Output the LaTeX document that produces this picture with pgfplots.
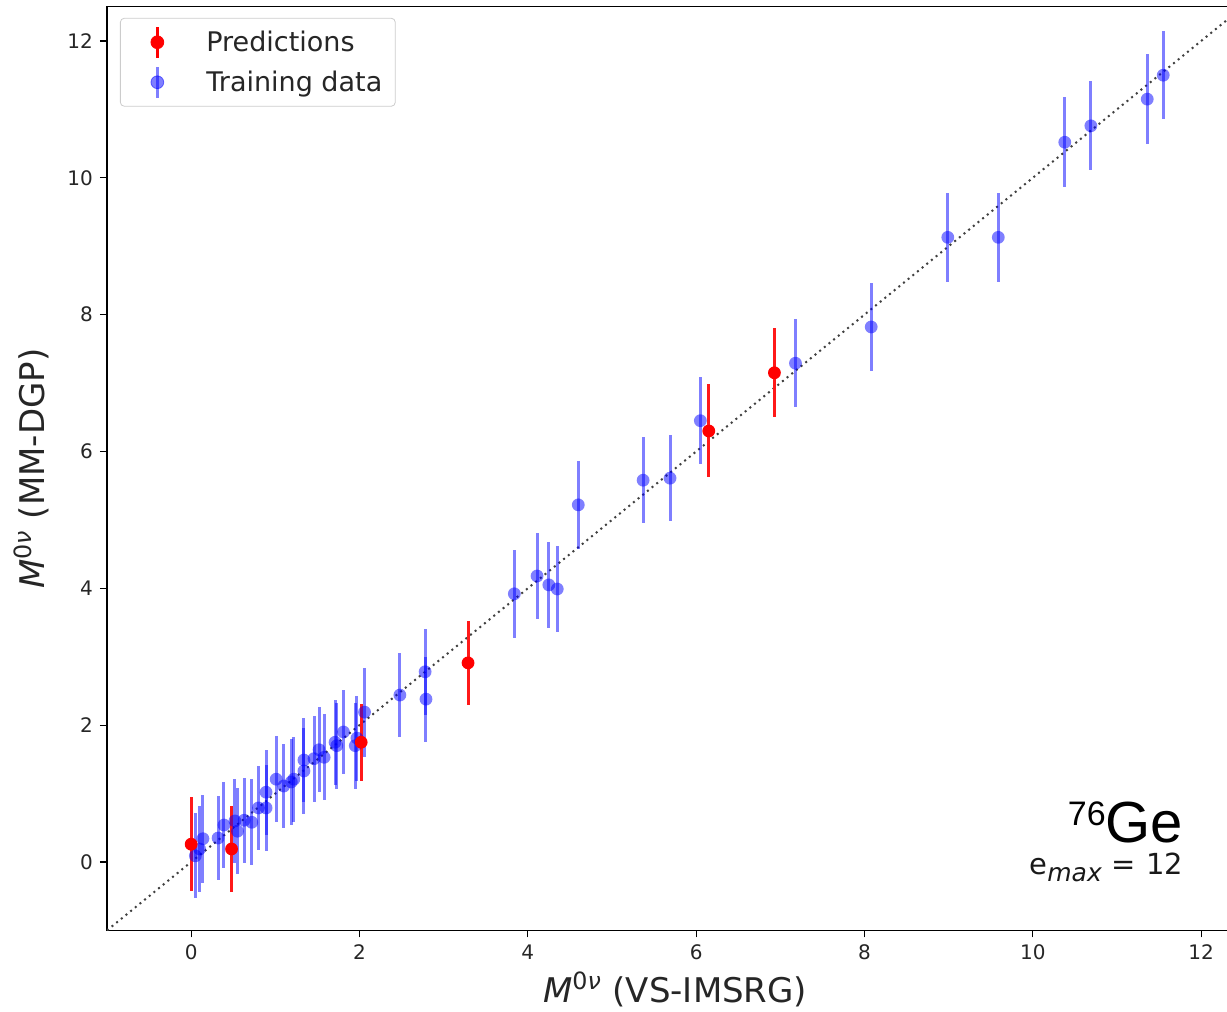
\documentclass[border=0pt]{standalone}
\usepackage{fontspec}
\setmainfont{DejaVu Sans}
\newfontfamily\helv{Liberation Sans}
\usepackage{pgfplots}
\usepackage{pgfplotstable}
\pgfplotsset{compat=1.18}

% predictions (red)
\pgfplotstableread{
x     y     ey
0.00  0.26  0.69
0.48  0.19  0.63
2.02  1.75  0.56
3.29  2.91  0.61
6.15  6.30  0.68
6.93  7.15  0.65
}\pred

% training data (blue)
\pgfplotstableread{
x     y     ey
0.05  0.09  0.62
0.10  0.19  0.63
0.14  0.34  0.64
0.32  0.35  0.62
0.39  0.54  0.63
0.52  0.60  0.62
0.55  0.45  0.63
0.63  0.61  0.62
0.72  0.58  0.63
0.80  0.79  0.62
0.89  0.79  0.63
0.89  1.02  0.62
1.01  1.21  0.63
1.10  1.11  0.62
1.19  1.17  0.63
1.22  1.21  0.62
1.34  1.33  0.63
1.34  1.49  0.62
1.46  1.51  0.63
1.52  1.64  0.62
1.58  1.53  0.63
1.71  1.75  0.62
1.73  1.70  0.63
1.81  1.90  0.62
1.95  1.70  0.63
1.97  1.81  0.62
2.06  2.19  0.65
2.48  2.44  0.62
2.78  2.78  0.63
2.79  2.38  0.62
3.84  3.92  0.64
4.11  4.18  0.63
4.25  4.05  0.63
4.35  3.99  0.63
4.60  5.22  0.64
5.37  5.58  0.63
5.69  5.61  0.63
6.05  6.45  0.64
7.18  7.29  0.64
8.08  7.82  0.64
8.99  9.13  0.65
9.59  9.13  0.65
10.38 10.52 0.66
10.69 10.76 0.65
11.36 11.15 0.66
11.55 11.50 0.64
}\train

\begin{document}
\begin{tikzpicture}
\begin{axis}[
  at={(0,0)}, anchor=south west,
  scale only axis,
  width=568.1pt, height=461.8pt,
  xmin=-1, xmax=12.5, ymin=-1, ymax=12.5,
  xtick={0,2,...,12}, ytick={0,2,...,12},
  xtick pos=lower, ytick pos=left,
  tick align=outside, major tick length=3.5pt,
  tick style={black, line width=0.6pt},
  axis line style={line width=0.65pt},
  /pgf/number format/assume math mode=true,
  tick label style={font=\fontsize{10}{12}\selectfont, text=black!85},
  xlabel={\textit{M}\textsuperscript{0\textit{ν}} (VS-IMSRG)},
  ylabel={\textit{M}\textsuperscript{0\textit{ν}} (MM-DGP)},
  every axis x label/.style={at={(axis description cs:0.5,-0.0780)}, anchor=base,
    font=\fontsize{17}{20}\selectfont, text=black!85},
  every axis y label/.style={at={(axis description cs:-0.0554,0.5)}, rotate=90, anchor=base,
    font=\fontsize{17}{20}\selectfont, text=black!85},
  legend style={
    at={(axis description cs:0.0114,0.988)}, anchor=north west,
    draw=black!20, rounded corners=2pt, fill=white,
    font=\fontsize{13.5}{16}\selectfont, text=black!85,
    inner xsep=4.5pt, inner ysep=3.5pt, row sep=3pt,
    column sep=6.5pt,
  },
  legend cell align=left,
]
  % y = x reference line
  \addplot[black!75, line width=1pt, dash pattern=on 1pt off 2pt, forget plot]
    coordinates {(-1,-1) (12.5,12.5)};

  \addlegendimage{legend image code/.code={
    \path[draw=none, fill=none] (0pt,-8pt) rectangle (30pt,8pt);
    \draw[red, line width=1.5pt, rounded corners=0pt] (14pt,-7.75pt) -- (14pt,7.75pt);
    \fill[red] (14pt,0pt) circle (3.2pt);}}
  \addlegendentry{Predictions}
  \addlegendimage{legend image code/.code={
    \path[draw=none, fill=none] (0pt,-8pt) rectangle (30pt,8pt);
    \draw[blue, opacity=0.5, line width=1.5pt, rounded corners=0pt] (14pt,-7.75pt) -- (14pt,7.75pt);
    \fill[blue, opacity=0.5] (14pt,0pt) circle (3.2pt);}}
  \addlegendentry{Training data}

  \addplot[blue, only marks, mark=*, mark size=3.2pt, forget plot,
    mark options={draw=none, fill=blue, fill opacity=0.5, draw opacity=0},
    error bars/.cd, y dir=both, y explicit, error mark=none,
    error bar style={line width=1.5pt, blue, opacity=0.5}]
    table[x=x, y=y, y error=ey] {\train};

  \addplot[red, only marks, mark=*, mark size=3.2pt, forget plot,
    mark options={draw=none, fill=red, draw opacity=0},
    error bars/.cd, y dir=both, y explicit, error mark=none,
    error bar style={line width=1.5pt, red!90}]
    table[x=x, y=y, y error=ey] {\pred};

  \node[anchor=base east, inner sep=0pt, font=\helv\fontsize{29}{29}\selectfont]
    at (axis cs:11.79,0.28) {\raisebox{8.8pt}{\fontsize{17}{17}\selectfont 76}Ge};
  \node[anchor=base east, inner sep=0pt, font=\fontsize{14.5}{15}\selectfont, text=black!90]
    at (axis cs:11.79,-0.19)
    {e\raisebox{-3.2pt}{\fontsize{12.5}{13}\selectfont\itshape max}\hspace{5pt}=\hspace{5pt}12};
\end{axis}
\pgfresetboundingbox
\useasboundingbox (-53.5pt,-40.5pt) rectangle (560pt,465.2pt);
\end{tikzpicture}
\end{document}
